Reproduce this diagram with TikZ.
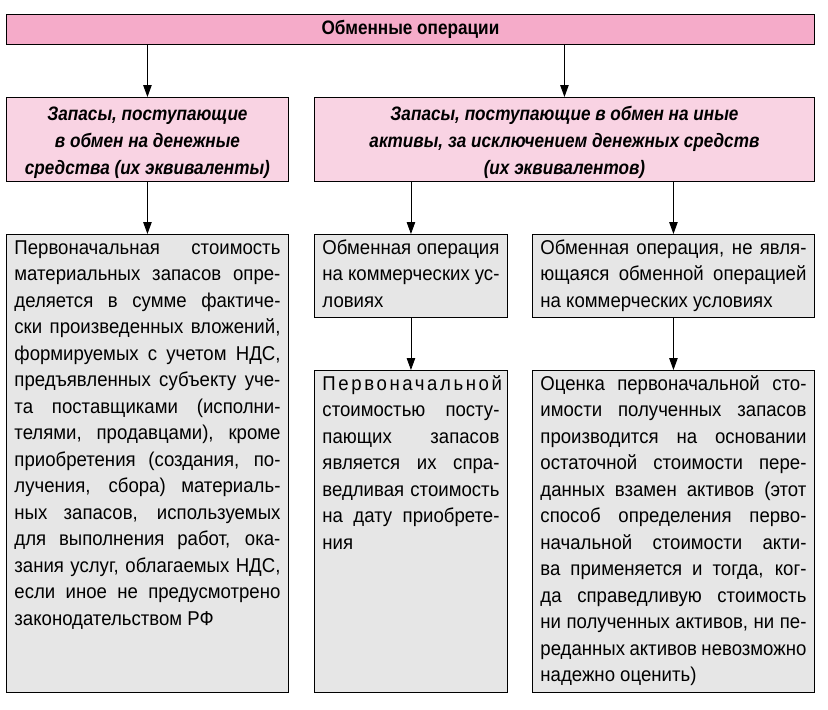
\documentclass[tikz,border=0pt]{standalone}
\usepackage{fontspec}
\setmainfont{Liberation Sans}[FakeStretch=0.93]
\newfontfamily\hdrfont{Liberation Sans}[FakeStretch=0.88]
\usetikzlibrary{arrows.meta}

\definecolor{toppink}{RGB}{245,171,201}
\definecolor{hdrpink}{RGB}{249,211,227}
\definecolor{boxgray}{RGB}{230,230,230}

\newcommand{\boxtext}[3]{\parbox[t][#2][t]{#1}{\strut #3}}
\newcommand{\hdrstrut}{\rule{0pt}{21pt}}

\begin{document}
\begin{tikzpicture}[x=1pt, y=-1pt,
    pinkbox/.style={draw, line width=0.9pt, fill=hdrpink, anchor=north west, align=center,
      inner sep=0pt, font=\hdrfont\fontsize{19.5}{27}\selectfont\bfseries\itshape},
    graybox/.style={draw, line width=0.9pt, fill=boxgray, anchor=north west,
      inner xsep=8pt, inner ysep=1pt, font=\fontsize{20}{26.5}\selectfont},
    arr/.style={line width=0.9pt, -{Triangle[length=12pt,width=8.5pt]}}]

    \useasboundingbox (0,0) rectangle (828,710);

    \node[pinkbox, fill=toppink, font=\hdrfont\fontsize{19.5}{22}\selectfont\bfseries,
      minimum width=808pt, minimum height=30pt] (top) at (6,14) {Обменные операции};

    \node[pinkbox, minimum width=282pt, minimum height=84pt] (hdrL) at (6,97)
      {\hdrstrut Запасы, поступающие\\в обмен на денежные\\средства (их эквиваленты)};
    \node[pinkbox, minimum width=500pt, minimum height=84pt] (hdrR) at (314,97)
      {\hdrstrut Запасы, поступающие в обмен на иные\\активы, за исключением денежных средств\\(их эквивалентов)};

    \node[graybox] (txtL) at (6,234) {\boxtext{266pt}{456pt}{%
      Первоначальная стоимость\linebreak
      материальных запасов опре-\linebreak
      деляется в сумме фактиче-\linebreak
      ски произведенных вложений,\linebreak
      формируемых с учетом НДС,\linebreak
      предъявленных субъекту уче-\linebreak
      та поставщиками (исполни-\linebreak
      телями, продавцами), кроме\linebreak
      приобретения (создания, по-\linebreak
      лучения, сбора) материаль-\linebreak
      ных запасов, используемых\linebreak
      для выполнения работ, ока-\linebreak
      зания услуг, облагаемых НДС,\linebreak
      если иное не предусмотрено\linebreak
      законодательством РФ}};

    \node[graybox] (opA) at (314,234) {\boxtext{177pt}{81pt}{%
      Обменная операция\linebreak
      на коммерческих ус-\linebreak
      ловиях}};
    \node[graybox] (opB) at (532,234) {\boxtext{266pt}{81pt}{%
      Обменная операция, не явля-\linebreak
      ющаяся обменной операцией\linebreak
      на коммерческих условиях}};

    \node[graybox] (resA) at (314,370) {\boxtext{177pt}{320pt}{%
      {\addfontfeature{LetterSpace=13}Первоначальной}\linebreak
      стоимостью посту-\linebreak
      пающих запасов\linebreak
      является их спра-\linebreak
      ведливая стоимость\linebreak
      на дату приобрете-\linebreak
      ния}};
    \node[graybox] (resB) at (532,370) {\boxtext{266pt}{320pt}{%
      Оценка первоначальной сто-\linebreak
      имости полученных запасов\linebreak
      производится на основании\linebreak
      остаточной стоимости пере-\linebreak
      данных взамен активов (этот\linebreak
      способ определения перво-\linebreak
      начальной стоимости акти-\linebreak
      ва применяется и тогда, ког-\linebreak
      да справедливую стоимость\linebreak
      ни полученных активов, ни пе-\linebreak
      реданных активов невозможно\linebreak
      надежно оценить)}};

    \draw[arr] (top.south -| hdrL.north) -- (hdrL.north);
    \draw[arr] (top.south -| hdrR.north) -- (hdrR.north);
    \draw[arr] (hdrL.south -| txtL.north) -- (txtL.north);
    \draw[arr] (hdrR.south -| opA.north) -- (opA.north);
    \draw[arr] (hdrR.south -| opB.north) -- (opB.north);
    \draw[arr] (opA.south) -- (resA.north);
    \draw[arr] (opB.south) -- (resB.north);

\end{tikzpicture}
\end{document}
